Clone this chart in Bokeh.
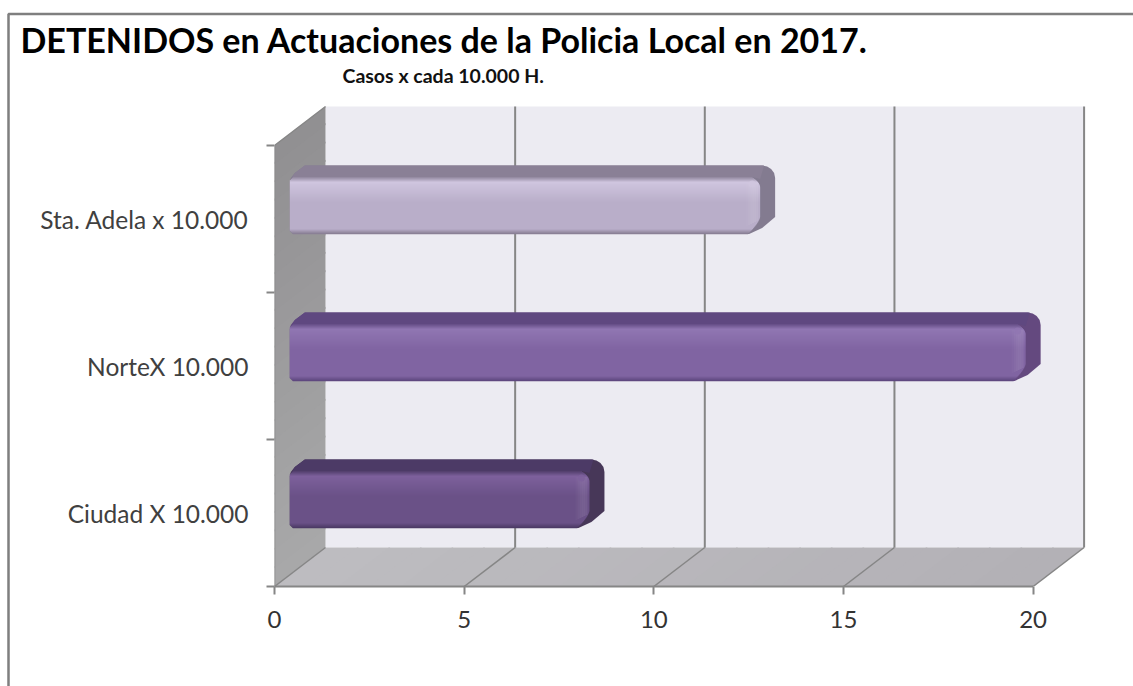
from bokeh.plotting import figure
from bokeh.models import Range1d, FixedTicker, LinearAxis, Title, Label
from bokeh.embed import file_html
from bokeh.resources import INLINE

categories = ["Ciudad X 10.000", "NorteX 10.000", "Sta. Adela x 10.000"]
values = [7.9, 19.4, 12.4]
x_ticks = [0, 5, 10, 15, 20]
title_text = "DETENIDOS en Actuaciones de la Policia Local en 2017."
subtitle_text = "Casos x cada 10.000 H."
face_colors = ["#6a5187", "#8064a2", "#b9aec9"]
light_colors = ["#7d609c", "#9076b2", "#cfc5df"]
dark_colors = ["#4c3a66", "#5f4880", "#8a8096"]
edge_colors = ["#473758", "#64497f", "#837b90"]

FONT = "Lato"
GREY = "#868686"
PX_X = 37.93
PX_Y = 147.0
W, H = 1133, 686
LEFT, BOTTOM, RIGHT, TOP = 274, 586, 1090, 68
DX, DY = 51 / PX_X, 39 / PX_Y
TOP_VAL = 3


def dx(px):
    return px / PX_X


def dy(px):
    return px / PX_Y


def hex2rgb(c):
    return tuple(int(c[i:i + 2], 16) for i in (1, 3, 5))


def mix(a, b, t):
    ra, rb = hex2rgb(a), hex2rgb(b)
    return "#%02x%02x%02x" % tuple(round(x + (y - x) * t) for x, y in zip(ra, rb))


p = figure(width=W, height=H, output_backend="svg", toolbar_location=None,
           x_range=Range1d(0, (RIGHT - LEFT) / PX_X), y_range=Range1d(0, (BOTTOM - TOP) / PX_Y),
           min_border_left=LEFT, min_border_right=W - RIGHT,
           min_border_top=TOP, min_border_bottom=H - BOTTOM,
           x_axis_type=None, y_axis_type=None, background_fill_color="white",
           border_fill_color="white", outline_line_color=None)
p.grid.visible = False

xa = LinearAxis(ticker=FixedTicker(ticks=x_ticks))
xa.axis_line_color = None
xa.major_tick_line_color = GREY
xa.major_tick_line_width = 2
xa.major_tick_out = 8
xa.major_tick_in = 0
xa.minor_tick_line_color = None
xa.major_label_standoff = 16
xa.major_label_text_font = FONT
xa.major_label_text_font_size = "24px"
xa.major_label_text_color = "#333333"
p.add_layout(xa, "below")

ya = LinearAxis(ticker=FixedTicker(ticks=[i + 0.5 for i in range(len(categories))],
                                   minor_ticks=list(range(len(categories) + 1))))
ya.major_label_overrides = {i + 0.5: c for i, c in enumerate(categories)}
ya.axis_line_color = None
ya.major_tick_line_color = None
ya.major_tick_out = 0
ya.major_tick_in = 0
ya.minor_tick_line_color = GREY
ya.minor_tick_line_width = 2
ya.minor_tick_out = 8
ya.minor_tick_in = 0
ya.major_label_standoff = 18
ya.major_label_text_font = FONT
ya.major_label_text_font_size = "24.5px"
ya.major_label_text_color = "#404040"
p.add_layout(ya, "left")

main = Title(text=title_text, text_font=FONT, text_font_size="34px", text_font_style="bold",
             text_color="#000000", offset=20 - LEFT, standoff=18)
p.add_layout(main, "above")
p.add_layout(Label(x=dx(342 - LEFT), y=dy(BOTTOM - 74.5), text=subtitle_text, text_font=FONT,
                   text_font_size="19.5px", text_font_style="bold", text_color="#111111",
                   text_baseline="middle", text_align="left"))

xmax = x_ticks[-1]
# back wall
p.patch([DX, DX + xmax, DX + xmax, DX], [DY, DY, TOP_VAL + DY, TOP_VAL + DY], color="#ecebf2", line_color=None)
# side wall, shaded from the floor upward
N_W = 24
wx, wy, wc = [], [], []
for k in range(N_W):
    a, b = k / N_W * TOP_VAL, (k + 1.1) / N_W * TOP_VAL
    wx.append([0, DX, DX, 0])
    wy.append([a, a + DY, min(b, TOP_VAL) + DY, min(b, TOP_VAL)])
    wc.append(mix("#a8a8a9", "#919092", k / (N_W - 1)))
p.patches(wx, wy, color=wc, line_color=None)
# floor, shaded from left to right
N_F = 24
fxs, fys, fcs = [], [], []
for k in range(N_F):
    a, b = k / N_F * xmax, (k + 1.05) / N_F * xmax
    fxs.append([a, min(b, xmax), min(b, xmax) + DX, a + DX])
    fys.append([0, 0, DY, DY])
    fcs.append(mix("#bdbcc0", "#b3b1b6", k / (N_F - 1)))
p.patches(fxs, fys, color=fcs, line_color=None)
# grid lines on the wall and the floor
gt = x_ticks[1:]
p.segment([t + DX for t in gt], DY, [t + DX for t in gt], TOP_VAL + DY, line_color=GREY, line_width=2)
p.segment(x_ticks, 0, [t + DX for t in x_ticks], DY, line_color=GREY, line_width=1.5)
p.line([0, xmax], [0, 0], line_color=GREY, line_width=2, level="overlay")
p.line([0, 0, DX], [0, TOP_VAL, TOP_VAL + DY], line_color=GREY, line_width=1.5)

# bars
BAR_H = dy(58)
OFF_X, OFF_Y = dx(15.3), dy(11)
BX, BY = dx(15), dy(10.5)
CENTER_SHIFT = dy(3)
for i, v in enumerate(values):
    xl = OFF_X
    xr = v + OFF_X
    yc = i + 0.5 + OFF_Y + CENTER_SHIFT
    yb = yc - BAR_H / 2
    yt = yc + BAR_H / 2
    # silhouette (top and side faces)
    sx = [xl + dx(3), xr - dx(11), xr + dx(2), xr + BX, xr + BX, xr + BX - dx(1), xr + BX - dx(4),
          xr + BX - dx(8), xr + BX - dx(13), xl + BX, xl + dx(5), xl + dx(1), xl, xl]
    sy = [yb, yb, yb + dy(6), yb + dy(17), yt - dy(2), yt + dy(3), yt + dy(7),
          yt + dy(9.5), yt + BY, yt + BY, yt + dy(3), yt - dy(2), yt - dy(6), yb + dy(3)]
    p.patch(sx, sy, color=edge_colors[i], line_color=None)
    top_x = [xl, xl + dx(5), xl + BX, xr + dx(4), xr, xr - dx(8)]
    top_y = [yt - dy(5), yt + dy(3), yt + BY, yt + BY, yt - dy(3), yt - dy(1)]
    p.patch(top_x, top_y, color=dark_colors[i], line_color=None)
    # front face, shaded row by row
    n = 58
    left, right, bottom, top, col = [], [], [], [], []
    for k in range(n):
        f = k / (n - 1)
        if f < 0.1:
            c = mix(dark_colors[i], light_colors[i], f / 0.1)
        elif f < 0.45:
            c = mix(light_colors[i], face_colors[i], (f - 0.1) / 0.35)
        elif f < 0.92:
            c = face_colors[i]
        else:
            c = mix(face_colors[i], dark_colors[i], (f - 0.92) / 0.08)
        t = yt - dy(k)
        inset_t = 9 * (1 - k / 11) ** 2 if k < 11 else 0
        r = n - 1 - k
        inset_b = 12 * (1 - r / 17) ** 1.5 if r < 17 else 0
        left.append(xl + dx(max(0, 4 - k) + max(0, 3 - r)))
        right.append(xr - dx(inset_t + inset_b))
        top.append(t)
        bottom.append(t - dy(1.2))
        col.append(c)
    p.quad(left=left, right=right, top=top, bottom=bottom, fill_color=col, line_color=None)
    # soft lighter bevel near the end of the front face
    for j, a in enumerate([0.025, 0.05, 0.075, 0.09, 0.09, 0.07]):
        xa0 = xr - dx(14 - 2 * j)
        p.quad(left=xa0, right=xa0 + dx(2), top=yt - dy(7), bottom=yb + dy(8 + j),
               fill_color="#ffffff", fill_alpha=a, line_color=None)
    p.ellipse(x=[xr - dx(8)], y=[yt - dy(8)], width=dx(7), height=dy(7),
              fill_color=light_colors[i], fill_alpha=0.8, line_color=None)

# outer frame of the picture, drawn outside the plot area
fx = dx(8 - LEFT)
fy = dy(BOTTOM - 13.5)
p.line([fx, fx, dx(W - LEFT)], [dy(BOTTOM - H), fy, fy], line_color="#7f7f7f", line_width=2.5, level="overlay")

open("out.html", "w").write(file_html(p, INLINE))
